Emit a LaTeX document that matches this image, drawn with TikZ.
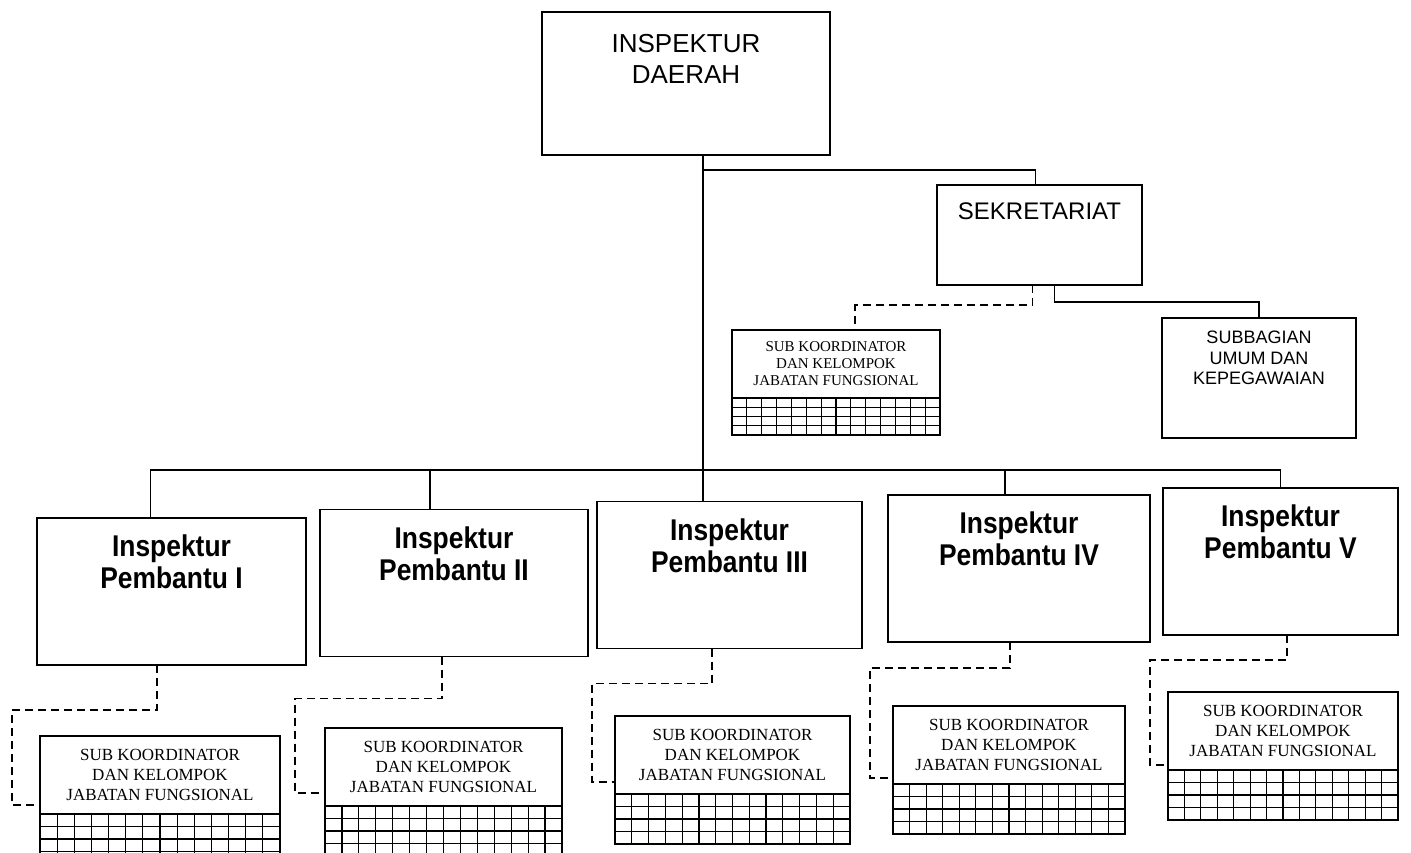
\documentclass[tikz,border=0pt]{standalone}
\usepackage{fontspec}
\setmainfont{Liberation Serif}
\setsansfont{Liberation Sans}
\newfontfamily\narrowsans[FakeStretch=0.88]{Liberation Sans}
\usepackage{tikz}

\begin{document}
\begin{tikzpicture}[x=1pt,y=-1pt]
  \tikzstyle{box}=[draw,line width=1.9pt,rectangle,inner sep=0pt,outer sep=0pt]
  \tikzstyle{lbl}=[anchor=north,align=center,inner sep=0pt]
  \tikzstyle{irban}=[box,minimum height=147pt]
  \tikzstyle{irbanfont}=[font=\fontsize{30}{32}\selectfont\narrowsans\bfseries]
  \tikzstyle{koord}=[box,align=center,minimum height=78pt,font=\fontsize{17}{20}\selectfont]
  \tikzstyle{line}=[line width=1.8pt]
  \tikzstyle{dashline}=[line width=1.8pt,dash pattern=on 8pt off 5pt]
  \useasboundingbox (0,0) rectangle (1411,852);

  % top
  \node[box,minimum width=288pt,minimum height=143pt,
    label={[lbl,yshift=-22pt,font=\fontsize{26}{31}\selectfont\sffamily]north:INSPEKTUR\\DAERAH}] (daerah) at (686,83.5) {};
  \node[box,minimum width=205pt,minimum height=100pt,
    label={[lbl,yshift=-18pt,font=\fontsize{24}{28}\selectfont\sffamily]north:SEKRETARIAT}] (sekre) at (1039.5,235) {};
  \node[box,minimum width=194pt,minimum height=120pt,
    label={[lbl,yshift=-13pt,font=\fontsize{18}{20.5}\selectfont\sffamily]north:SUBBAGIAN\\UMUM DAN\\KEPEGAWAIAN}] (subbag) at (1259,378) {};
  \node[koord,minimum width=208pt,minimum height=68pt,font=\fontsize{15}{17}\selectfont] (koord0) at (836,364)
    {SUB KOORDINATOR\\DAN KELOMPOK\\JABATAN FUNGSIONAL};

  % inspektur pembantu
  \node[irban,minimum width=269pt,label={[lbl,irbanfont,yshift=-17pt]north:Inspektur\\Pembantu I}] (irban1) at (171.5,591.5) {};
  \node[irban,minimum width=268pt,label={[lbl,irbanfont,yshift=-17pt]north:Inspektur\\Pembantu II}] (irban2) at (454,583) {};
  \node[irban,minimum width=265pt,label={[lbl,irbanfont,yshift=-17pt]north:Inspektur\\Pembantu III}] (irban3) at (729.5,575) {};
  \node[irban,minimum width=262pt,label={[lbl,irbanfont,yshift=-17pt]north:Inspektur\\Pembantu IV}] (irban4) at (1019,568.5) {};
  \node[irban,minimum width=235pt,label={[lbl,irbanfont,yshift=-17pt]north:Inspektur\\Pembantu V}] (irban5) at (1280.5,561.5) {};

  \node[koord,minimum width=240pt] (koord1) at (160,775) {SUB KOORDINATOR\\DAN KELOMPOK\\JABATAN FUNGSIONAL};
  \node[koord,minimum width=237pt] (koord2) at (443.5,767) {SUB KOORDINATOR\\DAN KELOMPOK\\JABATAN FUNGSIONAL};
  \node[koord,minimum width=235pt] (koord3) at (732.5,755) {SUB KOORDINATOR\\DAN KELOMPOK\\JABATAN FUNGSIONAL};
  \node[koord,minimum width=232pt] (koord4) at (1009,745) {SUB KOORDINATOR\\DAN KELOMPOK\\JABATAN FUNGSIONAL};
  \node[koord,minimum width=230pt] (koord5) at (1283,731) {SUB KOORDINATOR\\DAN KELOMPOK\\JABATAN FUNGSIONAL};

  % grids under the koordinator boxes
  \foreach \k/\w/\gh in {koord0/208/37,koord1/240/50,koord2/237/50,koord3/235/50,koord4/232/50,koord5/230/50}{
    \begin{scope}[shift={(\k.south west)}]
      \draw[line width=1.2pt] (0,\gh) grid[xstep=\w/14,ystep={\gh/4*1pt}] (\w,0);
      \draw[box] (0,0) rectangle (\w,\gh);
    \end{scope}
  }

  % solid lines
  \coordinate (fork) at (703,170);
  \coordinate (bus) at (703,470);
  \draw[line] ([xshift=17pt]daerah.south) -- (bus);
  \draw[line] (fork) -| ([xshift=-4pt]sekre.north);
  \draw[line] ([xshift=15pt]sekre.south) -- ++(0,17) -| (subbag.north);
  \draw[line] ([xshift=-21pt]irban1.north) |- (bus);
  \draw[line] ([xshift=-24pt]irban2.north) |- (bus);
  \draw[line] ([xshift=-26.5pt]irban3.north) |- (bus);
  \draw[line] ([xshift=-14pt]irban4.north) |- (bus);
  \draw[line] (irban5.north) |- (bus);

  % dashed lines
  \draw[dashline] ([xshift=-7pt]sekre.south) -- ++(0,20) -| ([xshift=19pt]koord0.north);
  \draw[dashline] ([xshift=-14.5pt]irban1.south) |- ++(-145,45) |- ([yshift=9pt]koord1.south west);
  \draw[dashline] ([xshift=-12pt]irban2.south) |- ++(-147,42) |- ([yshift=13pt]koord2.south west);
  \draw[dashline] ([xshift=-17.5pt]irban3.south) |- ++(-120,35) |- ([yshift=12pt]koord3.south west);
  \draw[dashline] ([xshift=-9pt]irban4.south) |- ++(-140,26) |- ([yshift=6pt]koord4.south west);
  \draw[dashline] ([xshift=6.5pt]irban5.south) |- ++(-137,25) |- ([yshift=5pt]koord5.south west);
\end{tikzpicture}
\end{document}
